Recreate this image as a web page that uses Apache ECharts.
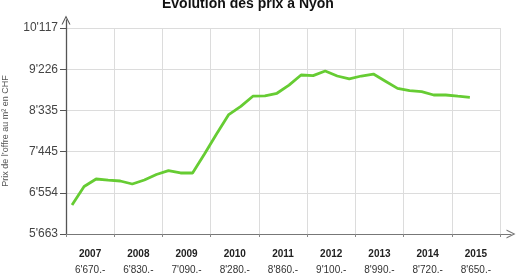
<!DOCTYPE html>
<html>
<head>
<meta charset="utf-8">
<script src="https://cdn.jsdelivr.net/npm/echarts@6/dist/echarts.min.js"></script>
<style>
  html, body { margin: 0; padding: 0; background: #fff; }
  #main { width: 516px; height: 277px; }
</style>
</head>
<body>
<div id="main"></div>
<script>
  // years shown on the axis, with the yearly price under each one
  var years = ['2007', '2008', '2009', '2010', '2011', '2012', '2013', '2014', '2015'];
  var yearPrices = ["6'670.-", "6'830.-", "7'090.-", "8'280.-", "8'860.-", "9'100.-", "8'990.-", "8'720.-", "8'650.-"];

  // quarterly offer prices, 2007 T1 .. 2015 T2
  var prices = [6290, 6690, 6852, 6830, 6809, 6744, 6830, 6950,
                7032, 6982, 6982, 7400, 7829, 8246, 8424, 8642,
                8650, 8706, 8882, 9101, 9088, 9187, 9079, 9018,
                9079, 9122, 8967, 8811, 8761, 8740, 8668, 8668,
                8642, 8618];

  var yTickLabels = ["5'663", "6'554", "7'445", "8'335", "9'226", "10'117"];
  var yMin = 5663, yMax = 10117;

  var quarters = [];
  years.forEach(function (y) {
    for (var q = 1; q <= 4; q++) quarters.push(y + ' T' + q);
  });

  var chevron = 'path://M0,10L5,0L10,10L8.7,10L5,2.6L1.3,10Z';

  var myChart = echarts.init(document.getElementById('main'));
  myChart.setOption({
    animation: false,
    title: {
      text: 'Évolution des prix à Nyon',
      left: 157,
      top: -8,
      textStyle: { fontFamily: 'Liberation Sans', fontSize: 14, fontWeight: 'bold', color: '#111' }
    },
    grid: [
      { left: 66, right: 16, top: 28, bottom: 43, outerBoundsMode: 'none' },
      // only used to draw the axis arrows past the plot area
      { left: 66, right: 5, top: 20, bottom: 43, outerBoundsMode: 'none' }
    ],
    xAxis: [
      {
        type: 'category',
        gridIndex: 0,
        data: years,
        boundaryGap: true,
        axisLine: { show: false },
        axisTick: { show: true, interval: 0, length: 3, lineStyle: { color: '#888' } },
        splitLine: { show: true, interval: 0, lineStyle: { color: '#dcdcdc', width: 1 } },
        axisLabel: {
          interval: 0,
          margin: 12,
          formatter: function (value, index) {
            return '{y|' + value + '}\n{p|' + yearPrices[index] + '}';
          },
          rich: {
            y: { fontFamily: 'Liberation Sans', fontSize: 10, fontWeight: 'bold', color: '#222', lineHeight: 16 },
            p: { fontFamily: 'Liberation Sans', fontSize: 10, color: '#333', lineHeight: 16 }
          }
        }
      },
      {
        type: 'category',
        gridIndex: 0,
        data: quarters,
        boundaryGap: true,
        show: false
      },
      {
        type: 'value',
        gridIndex: 1,
        min: 0,
        max: 1,
        axisLine: {
          show: true,
          symbol: ['none', chevron],
          symbolSize: [9, 9],
          lineStyle: { color: '#777', width: 1 }
        },
        axisTick: { show: false },
        axisLabel: { show: false },
        splitLine: { show: false }
      }
    ],
    yAxis: [
      {
        type: 'value',
        gridIndex: 0,
        min: yMin,
        max: yMax,
        interval: (yMax - yMin) / 5,
        name: 'Prix de l\u2019offre au m² en CHF',
        nameLocation: 'middle',
        nameGap: 56,
        nameTextStyle: { fontFamily: 'Liberation Sans', fontSize: 9, color: '#555' },
        axisLine: { show: false },
        axisTick: { show: true, length: 6, lineStyle: { color: '#555' } },
        splitLine: { show: true, lineStyle: { color: '#dcdcdc', width: 1 } },
        axisLabel: {
          margin: 8,
          fontFamily: 'Liberation Sans',
          fontSize: 12,
          color: '#444',
          formatter: function (value, index) { return yTickLabels[index]; }
        }
      },
      {
        type: 'value',
        gridIndex: 1,
        min: 0,
        max: 1,
        axisLine: {
          show: true,
          symbol: ['none', chevron],
          symbolSize: [9, 10],
          lineStyle: { color: '#555', width: 1.3 }
        },
        axisTick: { show: false },
        axisLabel: { show: false },
        splitLine: { show: false }
      }
    ],
    series: [{
      type: 'line',
      xAxisIndex: 1,
      yAxisIndex: 0,
      data: prices,
      showSymbol: false,
      lineStyle: { color: '#66cc33', width: 2.8 },
      itemStyle: { color: '#66cc33' }
    }]
  });
</script>
</body>
</html>
